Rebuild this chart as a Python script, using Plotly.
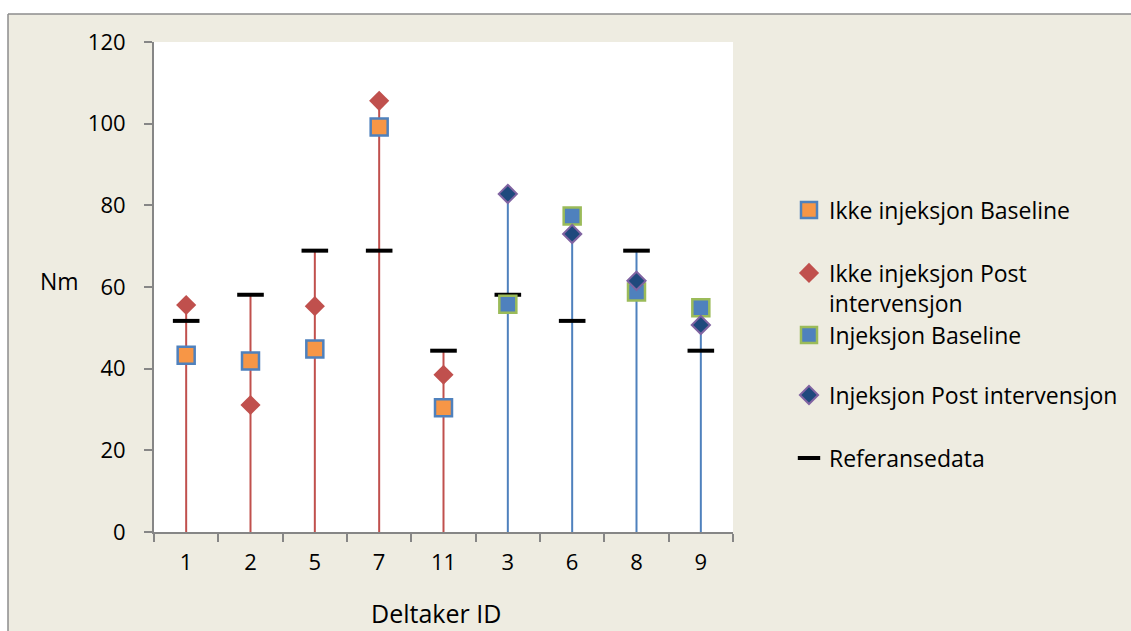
import plotly.graph_objects as go

# ---- data ----
ids = ["1", "2", "5", "7", "11", "3", "6", "8", "9"]
non_inj_ids = ["1", "2", "5", "7", "11"]
inj_ids = ["3", "6", "8", "9"]

ikke_baseline = [43.3, 41.9, 44.8, 99.2, 30.4]
ikke_post = [55.6, 31.1, 55.3, 105.6, 38.5]
inj_baseline = [55.8, 77.4, 58.8, 54.9]
inj_post = [82.8, 73.0, 61.5, 50.7]
referanse = [51.7, 58.1, 68.9, 68.9, 44.4, 58.1, 51.7, 68.9, 44.4]

ref_map = dict(zip(ids, referanse))

FONT = "Open Sans"
BEIGE = "#EEECE1"
RED = "#C0504D"
BLUE = "#4F81BD"
ORANGE = "#F79646"
GREEN = "#9BBB59"
NAVY = "#1F497D"
PURPLE = "#8064A2"

# plot area in pixels
L, R, T, B = 154, 733, 42, 532
W, H = 1131, 631


def px_x(p):
    return (p - L) / (R - L)


def px_y(p):
    return (B - p) / (B - T)


def drop_lines(cats, groups):
    xs, ys = [], []
    for i, c in enumerate(cats):
        top = max([g[i] for g in groups] + [ref_map[c]])
        xs += [c, c, None]
        ys += [0, top, None]
    return xs, ys


fig = go.Figure()

xr, yr = drop_lines(non_inj_ids, [ikke_baseline, ikke_post])
fig.add_trace(go.Scatter(x=xr, y=yr, mode="lines", line=dict(color=RED, width=2),
                         showlegend=False, hoverinfo="skip"))
xb, yb = drop_lines(inj_ids, [inj_baseline, inj_post])
fig.add_trace(go.Scatter(x=xb, y=yb, mode="lines", line=dict(color=BLUE, width=2),
                         showlegend=False, hoverinfo="skip"))

fig.add_trace(go.Scatter(x=ids, y=referanse, mode="markers", name="Referansedata",
                         marker=dict(symbol="line-ew", size=19, line=dict(color="black", width=4)),
                         legend="legend5"))
fig.add_trace(go.Scatter(x=non_inj_ids, y=ikke_baseline, mode="markers", name="Ikke injeksjon Baseline",
                         marker=dict(symbol="square", size=17, color=ORANGE, line=dict(color=BLUE, width=2.5)),
                         legend="legend"))
fig.add_trace(go.Scatter(x=non_inj_ids, y=ikke_post, mode="markers", name="Ikke injeksjon Post<br>intervensjon",
                         marker=dict(symbol="diamond", size=15.5, color=RED, line=dict(color=RED, width=0)),
                         legend="legend2"))
fig.add_trace(go.Scatter(x=inj_ids, y=inj_baseline, mode="markers", name="Injeksjon Baseline",
                         marker=dict(symbol="square", size=17, color=BLUE, line=dict(color=GREEN, width=2.5)),
                         legend="legend3"))
fig.add_trace(go.Scatter(x=inj_ids, y=inj_post, mode="markers", name="Injeksjon Post intervensjon",
                         marker=dict(symbol="diamond", size=14, color=NAVY, line=dict(color=PURPLE, width=2)),
                         legend="legend4"))

leg_x = px_x(789)
leg_font = dict(family=FONT, size=23, color="black")


def leg(ypix, valign="middle"):
    return dict(x=leg_x, xanchor="left", y=px_y(ypix), yanchor="middle",
                bgcolor="rgba(0,0,0,0)", font=leg_font, valign=valign,
                itemsizing="trace")


fig.update_layout(
    width=W, height=H,
    margin=dict(l=L, r=W - R, t=T, b=H - B, autoexpand=False),
    paper_bgcolor=BEIGE,
    plot_bgcolor="white",
    font=dict(family=FONT, size=22, color="black"),
    showlegend=True,
    legend=leg(210),
    legend2=leg(288, "top"),
    legend3=leg(335),
    legend4=leg(395),
    legend5=leg(458),
    xaxis=dict(type="category", categoryorder="array", categoryarray=ids,
               range=[-0.5, len(ids) - 0.5], showgrid=False, zeroline=False,
               showline=True, linecolor="#868686", linewidth=2,
               ticks="outside", tickson="boundaries", ticklen=8, tickwidth=2, tickcolor="#868686",
               tickfont=dict(family=FONT, size=22), ticklabelstandoff=10),
    yaxis=dict(range=[0, 120], dtick=20, showgrid=False, zeroline=False,
               showline=True, linecolor="#868686", linewidth=2,
               ticks="outside", ticklen=8, tickwidth=2, tickcolor="#868686",
               tickfont=dict(family=FONT, size=22), ticklabelstandoff=14),
    shapes=[
        # white strips outside the chart border
        dict(type="rect", xref="paper", yref="paper", x0=px_x(-5), x1=px_x(8), y0=px_y(640), y1=px_y(-5),
             fillcolor="white", line=dict(width=0), layer="below"),
        dict(type="rect", xref="paper", yref="paper", x0=px_x(-5), x1=px_x(1140), y0=px_y(14), y1=px_y(-5),
             fillcolor="white", line=dict(width=0), layer="below"),
        dict(type="line", xref="paper", yref="paper", x0=px_x(8), x1=px_x(8), y0=px_y(14), y1=px_y(640),
             line=dict(color="#8c8c8c", width=1.5)),
        dict(type="line", xref="paper", yref="paper", x0=px_x(8), x1=px_x(1140), y0=px_y(14), y1=px_y(14),
             line=dict(color="#8c8c8c", width=1.5)),
    ],
    annotations=[
        dict(text="Nm", xref="paper", yref="paper", x=px_x(59), y=px_y(281),
             showarrow=False, font=dict(family=FONT, size=23), xanchor="center", yanchor="middle"),
        dict(text="Deltaker ID", xref="paper", yref="paper", x=px_x(436), y=px_y(613),
             showarrow=False, font=dict(family=FONT, size=25), xanchor="center", yanchor="middle"),
    ],
)

fig.write_html("out.html")
